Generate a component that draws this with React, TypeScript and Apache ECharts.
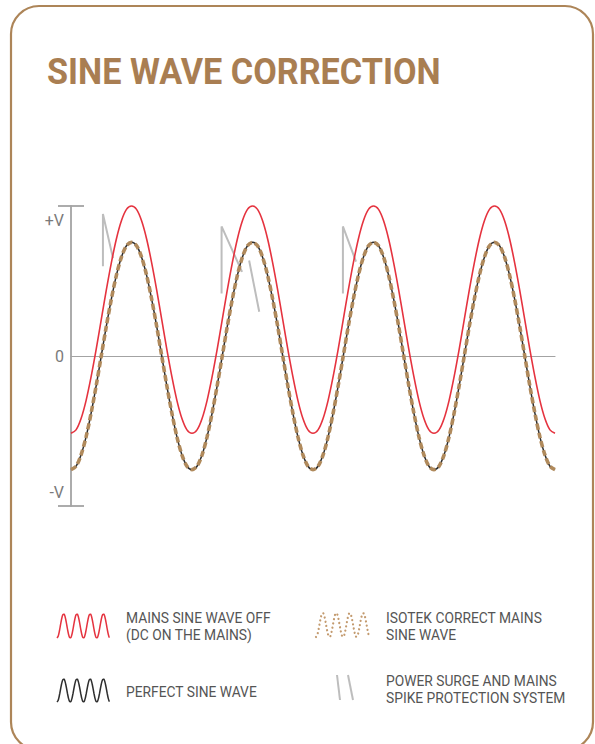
import React, { useEffect, useRef } from "react";
import * as echarts from "echarts";

// ---- data ----
const CYCLE_COUNT = 4;
const PHASE_STEPS = [0, 15, 30, 45, 60, 75, 90, 105, 120, 135, 150, 165, 180, 195, 210, 225, 240, 255, 270, 285, 300, 315, 330, 345]; // degrees within one cycle
const PERFECT_CYCLE = [-1, -0.97, -0.87, -0.71, -0.5, -0.26, 0, 0.26, 0.5, 0.71, 0.87, 0.97, 1, 0.97, 0.87, 0.71, 0.5, 0.26, 0, -0.26, -0.5, -0.71, -0.87, -0.97];
const DC_OFFSET_CYCLE = [-0.68, -0.65, -0.55, -0.39, -0.18, 0.06, 0.32, 0.58, 0.82, 1.03, 1.19, 1.29, 1.32, 1.29, 1.19, 1.03, 0.82, 0.58, 0.32, 0.06, -0.18, -0.39, -0.55, -0.65];
// spike traces (x in degrees, y in volts relative to peak); null = pen lift
const SPIKE_1 = [[95, 0.79], [95, 1.25], [125, 0.86]];
const SPIKE_2 = [[448, 0.55], [448, 1.14], [509, 0.74], null, [530, 0.84], [560, 0.39]];
const SPIKE_3 = [[809, 0.55], [809, 1.14], [848, 0.83]];
const Y_TICKS = [-1.32, 1.32];
const Y_LABEL_POS = [-1.2, 0, 1.19];
const Y_LABELS = ["-V", "0", "+V"];
const LEGEND_LINES = [
  ["MAINS SINE WAVE OFF", "(DC ON THE MAINS)"],
  ["PERFECT SINE WAVE"],
  ["ISOTEK CORRECT MAINS", "SINE WAVE"],
  ["POWER SURGE AND MAINS", "SPIKE PROTECTION SYSTEM"],
];
const TITLE = "SINE WAVE CORRECTION";

function tile(cycle: number[]) {
  const out: number[][] = [];
  for (let c = 0; c < CYCLE_COUNT; c++) {
    for (let i = 0; i < PHASE_STEPS.length; i++) out.push([c * 360 + PHASE_STEPS[i], cycle[i]]);
  }
  out.push([CYCLE_COUNT * 360, cycle[0]]);
  return out;
}

const RED = "#e5333f";
const BLACK = "#2e2e2e";
const TAN = "#b08a5c";
const GRAY = "#bdbdbd";
const AXIS = "#a3a3a3";
const BRAND = "#a97e52";
const TEXT = "#555555";
const FONT = "Roboto, 'Noto Sans', sans-serif";

export default function App() {
  const ref = useRef<HTMLDivElement>(null);
  useEffect(() => {
    if (!ref.current) return;
    const chart = echarts.init(ref.current, null, { renderer: "svg" });
    const perfect = tile(PERFECT_CYCLE);
    const dc = tile(DC_OFFSET_CYCLE);
    const spikes: any[] = [...SPIKE_1, null, ...SPIKE_2, null, ...SPIKE_3].map((p) => (p ? p : [null, null]));

    const hiddenX = (gi: number) => ({
      type: "value", gridIndex: gi, min: 0, max: CYCLE_COUNT * 360,
      show: false,
    });
    const hiddenY = (gi: number, min: number, max: number) => ({
      type: "value", gridIndex: gi, min, max, show: false,
    });

    const legendText: any[] = [];
    const legendPos = [
      [126, 617.5],
      [126, 691.5],
      [386, 617.5],
      [386, 681],
    ];
    LEGEND_LINES.forEach((lines, i) => {
      lines.forEach((t, j) => {
        legendText.push({
          type: "text",
          x: legendPos[i][0],
          y: legendPos[i][1] + j * 17,
          style: {
            text: t, fill: TEXT, font: `400 13.8px ${FONT}`,
            verticalAlign: "middle", align: "left",
          },
        });
      });
    });

    chart.setOption({
      animation: false,
      grid: [
        { left: 71, top: 206, width: 484, height: 300 },
        { left: 57, top: 614, width: 53, height: 24 },
        { left: 57, top: 679, width: 53, height: 23 },
        { left: 316, top: 613, width: 54, height: 24 },
      ],
      xAxis: [
        {
          type: "value", gridIndex: 0, min: 0, max: CYCLE_COUNT * 360,
          axisLine: { show: true, onZero: true, lineStyle: { color: AXIS, width: 1.2 } },
          axisTick: { show: false }, axisLabel: { show: false }, splitLine: { show: false },
        },
        hiddenX(1), hiddenX(2), hiddenX(3),
      ],
      yAxis: [
        {
          type: "value", gridIndex: 0, min: -1.32, max: 1.32,
          axisLine: { show: true, lineStyle: { color: AXIS, width: 1.8 } },
          axisTick: { show: true, customValues: Y_TICKS, length: 13, lineStyle: { color: AXIS, width: 1.8 } },
          axisLabel: {
            show: true, customValues: Y_LABEL_POS, margin: 7,
            color: "#7a7a7a", fontSize: 16, fontFamily: FONT,
            formatter: (v: number) => (v > 0.5 ? Y_LABELS[2] : v < -0.5 ? Y_LABELS[0] : Y_LABELS[1]),
          },
          splitLine: { show: false },
        },
        {
          type: "value", gridIndex: 0, min: -1.32, max: 1.32, position: "left", offset: 0,
          axisLine: { show: false },
          axisTick: { show: true, inside: true, customValues: Y_TICKS, length: 13, lineStyle: { color: AXIS, width: 1.8 } },
          axisLabel: { show: false }, splitLine: { show: false },
        },
        hiddenY(1, -0.68, 1.32),
        hiddenY(2, -1, 1),
        hiddenY(3, -1, 1),
      ],
      series: [
        {
          type: "line", xAxisIndex: 0, yAxisIndex: 0, data: spikes, showSymbol: false, clip: false,
          connectNulls: false, lineStyle: { color: GRAY, width: 2 }, silent: true,
        },
        {
          type: "line", xAxisIndex: 0, yAxisIndex: 0, data: dc, smooth: 0.3, showSymbol: false, clip: false,
          lineStyle: { color: RED, width: 1.6 },
        },
        {
          type: "line", xAxisIndex: 0, yAxisIndex: 0, data: perfect, smooth: 0.3, showSymbol: false, clip: false,
          lineStyle: { color: BLACK, width: 1.5 },
        },
        {
          type: "line", xAxisIndex: 0, yAxisIndex: 0, data: perfect, smooth: 0.3, showSymbol: false, clip: false,
          lineStyle: { color: TAN, width: 3.6, type: [6, 3] },
        },
        {
          type: "line", xAxisIndex: 1, yAxisIndex: 2, data: dc, smooth: 0.3, showSymbol: false, clip: false,
          lineStyle: { color: RED, width: 1.5 },
        },
        {
          type: "line", xAxisIndex: 2, yAxisIndex: 3, data: perfect, smooth: 0.3, showSymbol: false, clip: false,
          lineStyle: { color: BLACK, width: 1.5 },
        },
        {
          type: "line", xAxisIndex: 3, yAxisIndex: 4, data: perfect, smooth: 0.3, showSymbol: false, clip: false,
          lineStyle: { color: "#c39a6e", width: 2.2, type: [0.1, 4.2], cap: "round" },
        },
      ],
      graphic: [
        {
          type: "rect", z: -1,
          shape: { x: 11, y: 6, width: 582, height: 744, r: 28 },
          style: { fill: "none", stroke: "#ad8558", lineWidth: 2.2 },
        },
        {
          type: "text", x: 47, y: 72, scaleX: 0.95,
          style: { text: TITLE, fill: BRAND, font: `700 36px ${FONT}`, verticalAlign: "middle", align: "left" },
        },
        {
          type: "line", shape: { x1: 337, y1: 675, x2: 340, y2: 700 },
          style: { stroke: GRAY, lineWidth: 2 },
        },
        {
          type: "line", shape: { x1: 348, y1: 675, x2: 353, y2: 700 },
          style: { stroke: GRAY, lineWidth: 2 },
        },
        ...legendText,
      ],
    });
    return () => chart.dispose();
  }, []);
  return (
    <div
      ref={ref}
      style={{ position: "absolute", left: 0, top: 0, width: 595, height: 744, background: "#fff" }}
    />
  );
}
